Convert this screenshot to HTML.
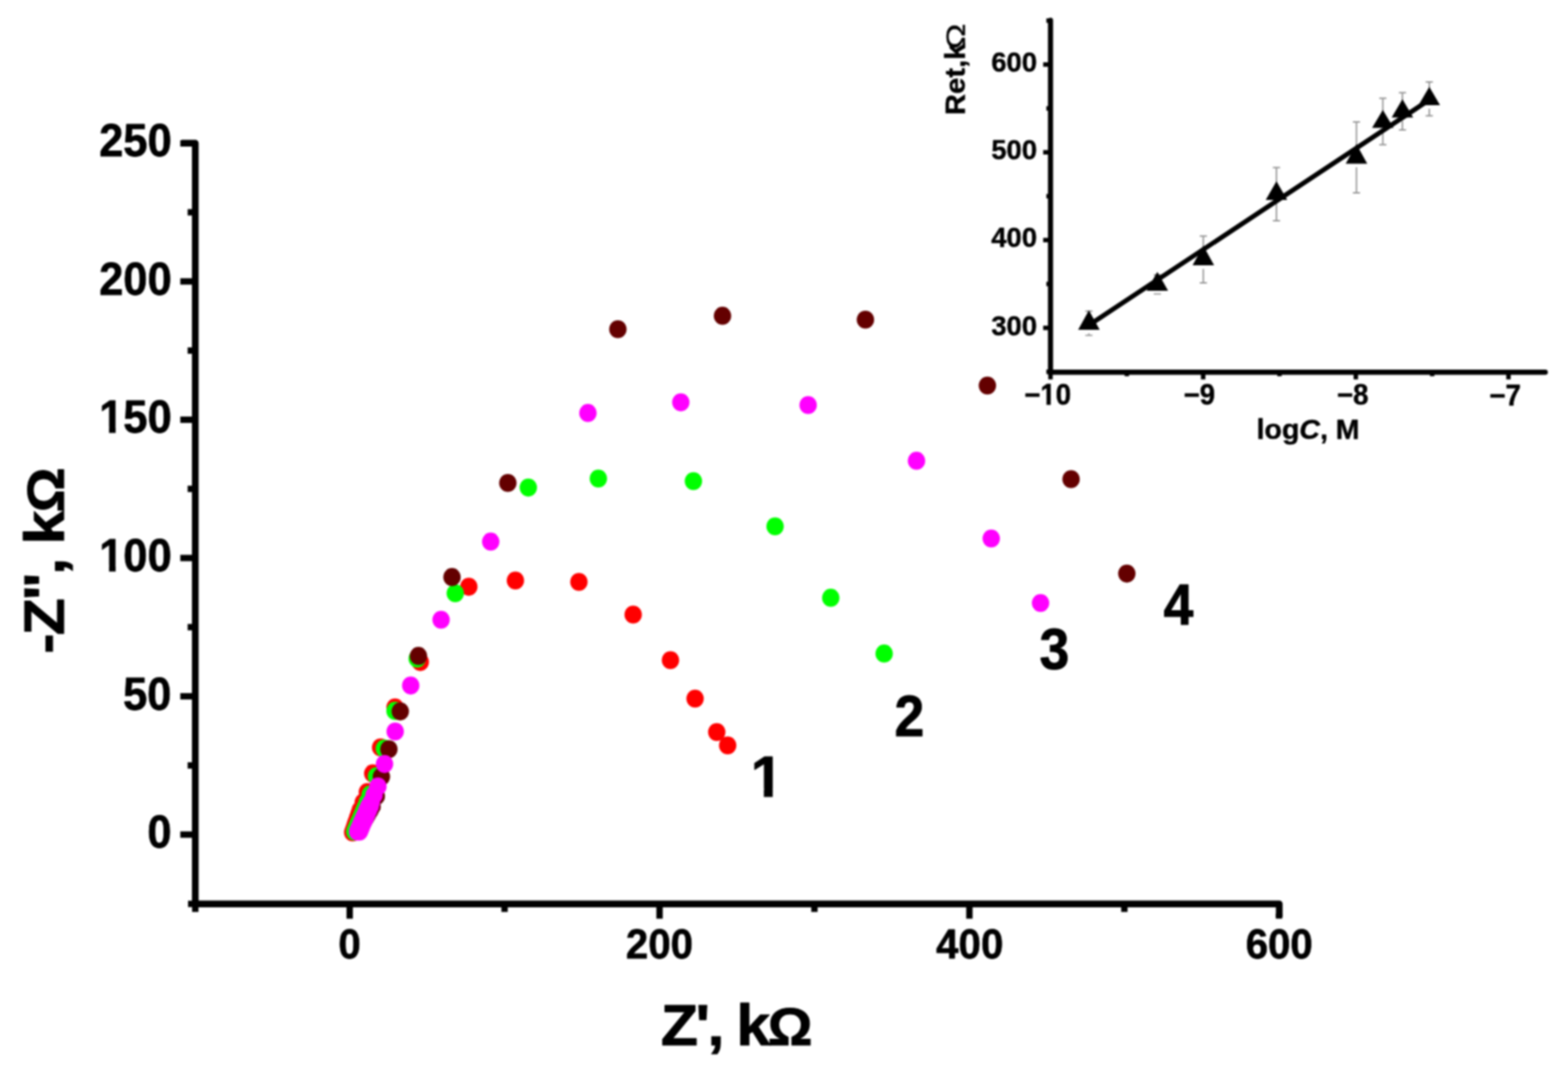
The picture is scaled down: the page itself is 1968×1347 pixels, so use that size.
<!DOCTYPE html>
<html lang="en"><head><meta charset="utf-8"><title>Nyquist plot</title>
<style>html,body{margin:0;padding:0;background:#fff;}body{width:1968px;height:1347px;overflow:hidden;}svg{display:block;}text{font-family:"Liberation Sans",sans-serif;font-weight:bold;fill:#000;stroke:#000;stroke-width:1.5px;stroke-linejoin:round;}</style></head><body>
<svg width="1968" height="1347" viewBox="0 0 1968 1347">
<defs><filter id="soft" x="0" y="0" width="1968" height="1347" filterUnits="userSpaceOnUse" color-interpolation-filters="sRGB"><feGaussianBlur stdDeviation="0.8"/></filter></defs>
<defs><clipPath id="one0" clipPathUnits="userSpaceOnUse"><path clip-rule="evenodd" d="M-20 -120H400V60H-20Z M-3.0 -13H22.6V4H-3.0Z M37.8 -13H57.0V4H37.8Z"/></clipPath><clipPath id="one584" clipPathUnits="userSpaceOnUse"><path clip-rule="evenodd" d="M-20 -120H400V60H-20Z M55.4 -13H81.0V4H55.4Z M96.2 -13H115.4V4H96.2Z"/></clipPath></defs>
<rect x="0" y="0" width="1968" height="1347" fill="#ffffff"/>
<g filter="url(#soft)">
<rect x="-20" y="-20" width="2008" height="1387" fill="#ffffff"/>
<g stroke="#000" stroke-width="8.4" fill="none" stroke-linejoin="round" stroke-linecap="butt">
<path d="M228.0 179.7H245.1V1134.7H1605.6V1151.5"/>
<path d="M226.3 180.0H232.0 M1605.3 1147.0V1153.3" stroke-width="8.0" stroke-linejoin="miter"/>
</g>
<g stroke="#000" stroke-width="8.0" fill="none">
<path d="M245.1 1134.7H236.0"/>
<path d="M245.1 1134.7V1144.8"/>
<path d="M226.3 1047.7H245.1"/>
<path d="M226.3 874.1H245.1"/>
<path d="M226.3 700.5H245.1"/>
<path d="M226.3 526.9H245.1"/>
<path d="M226.3 353.3H245.1"/>
<path d="M235.5 960.9H245.1"/>
<path d="M235.5 787.3H245.1"/>
<path d="M235.5 613.7H245.1"/>
<path d="M235.5 440.1H245.1"/>
<path d="M235.5 266.5H245.1"/>
<path d="M438.9 1134.7V1153.3"/>
<path d="M827.8 1134.7V1153.3"/>
<path d="M1216.7 1134.7V1153.3"/>
<path d="M633.3 1134.7V1144.8"/>
<path d="M1022.2 1134.7V1144.8"/>
<path d="M1411.2 1134.7V1144.8"/>
</g>
<text transform="translate(185.06,1064.12) scale(0.5450,0.5730)" font-size="100">0</text>
<text transform="translate(154.54,890.52) scale(0.5450,0.5730)" font-size="100">50</text>
<g transform="translate(124.56,716.92) scale(0.5450,0.5730)"><text clip-path="url(#one0)" font-size="100">100</text></g>
<g transform="translate(124.56,543.32) scale(0.5450,0.5730)"><text clip-path="url(#one0)" font-size="100">150</text></g>
<text transform="translate(124.56,369.72) scale(0.5450,0.5730)" font-size="100">200</text>
<text transform="translate(124.56,196.12) scale(0.5450,0.5730)" font-size="100">250</text>
<text transform="translate(424.71,1203.26) scale(0.5050,0.5220)" font-size="100">0</text>
<text transform="translate(785.59,1203.26) scale(0.5050,0.5220)" font-size="100">200</text>
<text transform="translate(1174.99,1203.26) scale(0.5050,0.5220)" font-size="100">400</text>
<text transform="translate(1563.38,1203.26) scale(0.5050,0.5220)" font-size="100">600</text>
<text transform="translate(829.38,1312.00) scale(0.7624,0.7261)" font-size="100" style="letter-spacing:-4px">Z', k<tspan font-size="92">Ω</tspan></text>
<text transform="translate(80.20,820.79) rotate(-90) scale(0.7650,0.7106)" font-size="100" style="letter-spacing:-3px">-Z'', k<tspan font-size="92">Ω</tspan></text>
<text transform="translate(1122.77,923.55) scale(0.6700,0.7300)" font-size="100">2</text>
<text transform="translate(1304.67,839.98) scale(0.6700,0.7300)" font-size="100">3</text>
<text transform="translate(1460.45,783.98) scale(0.6700,0.7300)" font-size="100">4</text>
<g transform="translate(942.24,999.84) scale(0.7300,0.7300)"><text clip-path="url(#one0)" font-size="100">1</text></g>
<g fill="#ff0000">
<ellipse cx="442.6" cy="1045.0" rx="10.9" ry="11.3"/>
<ellipse cx="443.4" cy="1042.7" rx="10.9" ry="11.3"/>
<ellipse cx="444.5" cy="1039.4" rx="10.9" ry="11.3"/>
<ellipse cx="445.8" cy="1035.6" rx="10.9" ry="11.3"/>
<ellipse cx="447.2" cy="1031.3" rx="10.9" ry="11.3"/>
<ellipse cx="448.8" cy="1026.7" rx="10.9" ry="11.3"/>
<ellipse cx="450.5" cy="1021.8" rx="10.9" ry="11.3"/>
<ellipse cx="452.2" cy="1016.7" rx="10.9" ry="11.3"/>
<ellipse cx="455.9" cy="1007.3" rx="10.9" ry="11.3"/>
<ellipse cx="461.1" cy="994.3" rx="10.9" ry="11.3"/>
<ellipse cx="467.8" cy="970.9" rx="10.9" ry="11.3"/>
<ellipse cx="477.7" cy="938.2" rx="10.9" ry="11.3"/>
<ellipse cx="495.8" cy="888.0" rx="10.9" ry="11.3"/>
<ellipse cx="527.5" cy="831.1" rx="10.9" ry="11.3"/>
<ellipse cx="588.4" cy="736.6" rx="10.9" ry="11.3"/>
<ellipse cx="646.9" cy="728.7" rx="10.9" ry="11.3"/>
<ellipse cx="726.6" cy="730.5" rx="10.9" ry="11.3"/>
<ellipse cx="794.7" cy="771.5" rx="10.9" ry="11.3"/>
<ellipse cx="841.5" cy="828.7" rx="10.9" ry="11.3"/>
<ellipse cx="872.4" cy="877.0" rx="10.9" ry="11.3"/>
<ellipse cx="899.6" cy="919.0" rx="10.9" ry="11.3"/>
<ellipse cx="913.3" cy="935.8" rx="10.9" ry="11.3"/>
</g>
<g fill="#00ff00">
<ellipse cx="445.3" cy="1044.0" rx="10.9" ry="11.3"/>
<ellipse cx="446.2" cy="1042.0" rx="10.9" ry="11.3"/>
<ellipse cx="447.4" cy="1039.1" rx="10.9" ry="11.3"/>
<ellipse cx="448.9" cy="1035.6" rx="10.9" ry="11.3"/>
<ellipse cx="450.6" cy="1031.8" rx="10.9" ry="11.3"/>
<ellipse cx="452.4" cy="1027.7" rx="10.9" ry="11.3"/>
<ellipse cx="454.2" cy="1023.4" rx="10.9" ry="11.3"/>
<ellipse cx="456.2" cy="1018.8" rx="10.9" ry="11.3"/>
<ellipse cx="458.3" cy="1014.0" rx="10.9" ry="11.3"/>
<ellipse cx="461.0" cy="1007.0" rx="10.9" ry="11.3"/>
<ellipse cx="464.7" cy="997.4" rx="10.9" ry="11.3"/>
<ellipse cx="472.5" cy="974.6" rx="10.9" ry="11.3"/>
<ellipse cx="482.4" cy="939.8" rx="10.9" ry="11.3"/>
<ellipse cx="495.8" cy="892.4" rx="10.9" ry="11.3"/>
<ellipse cx="523.6" cy="826.8" rx="10.9" ry="11.3"/>
<ellipse cx="571.4" cy="744.7" rx="10.9" ry="11.3"/>
<ellipse cx="663.1" cy="612.1" rx="10.9" ry="11.3"/>
<ellipse cx="751.0" cy="600.7" rx="10.9" ry="11.3"/>
<ellipse cx="870.3" cy="604.0" rx="10.9" ry="11.3"/>
<ellipse cx="972.8" cy="660.7" rx="10.9" ry="11.3"/>
<ellipse cx="1042.7" cy="750.4" rx="10.9" ry="11.3"/>
<ellipse cx="1109.7" cy="820.4" rx="10.9" ry="11.3"/>
</g>
<g fill="#640000">
<ellipse cx="449.5" cy="1043.0" rx="10.9" ry="11.3"/>
<ellipse cx="450.7" cy="1041.0" rx="10.9" ry="11.3"/>
<ellipse cx="452.4" cy="1038.0" rx="10.9" ry="11.3"/>
<ellipse cx="454.4" cy="1034.5" rx="10.9" ry="11.3"/>
<ellipse cx="456.6" cy="1030.6" rx="10.9" ry="11.3"/>
<ellipse cx="459.0" cy="1026.4" rx="10.9" ry="11.3"/>
<ellipse cx="461.5" cy="1022.0" rx="10.9" ry="11.3"/>
<ellipse cx="464.2" cy="1017.4" rx="10.9" ry="11.3"/>
<ellipse cx="467.0" cy="1012.5" rx="10.9" ry="11.3"/>
<ellipse cx="472.3" cy="999.5" rx="10.9" ry="11.3"/>
<ellipse cx="478.7" cy="975.1" rx="10.9" ry="11.3"/>
<ellipse cx="488.1" cy="940.5" rx="10.9" ry="11.3"/>
<ellipse cx="502.4" cy="893.1" rx="10.9" ry="11.3"/>
<ellipse cx="525.2" cy="823.4" rx="10.9" ry="11.3"/>
<ellipse cx="567.3" cy="724.4" rx="10.9" ry="11.3"/>
<ellipse cx="637.4" cy="606.2" rx="10.9" ry="11.3"/>
<ellipse cx="775.5" cy="413.2" rx="10.9" ry="11.3"/>
<ellipse cx="906.8" cy="396.4" rx="10.9" ry="11.3"/>
<ellipse cx="1086.2" cy="401.2" rx="10.9" ry="11.3"/>
<ellipse cx="1239.3" cy="484.0" rx="10.9" ry="11.3"/>
<ellipse cx="1344.3" cy="601.5" rx="10.9" ry="11.3"/>
<ellipse cx="1414.3" cy="720.1" rx="10.9" ry="11.3"/>
</g>
<g fill="#ff00ff">
<ellipse cx="448.8" cy="1044.0" rx="10.9" ry="11.3"/>
<ellipse cx="449.7" cy="1041.9" rx="10.9" ry="11.3"/>
<ellipse cx="451.1" cy="1038.8" rx="10.9" ry="11.3"/>
<ellipse cx="452.7" cy="1035.1" rx="10.9" ry="11.3"/>
<ellipse cx="454.4" cy="1031.1" rx="10.9" ry="11.3"/>
<ellipse cx="456.3" cy="1026.8" rx="10.9" ry="11.3"/>
<ellipse cx="458.4" cy="1022.2" rx="10.9" ry="11.3"/>
<ellipse cx="460.5" cy="1017.3" rx="10.9" ry="11.3"/>
<ellipse cx="462.7" cy="1012.3" rx="10.9" ry="11.3"/>
<ellipse cx="451.0" cy="1044.0" rx="10.9" ry="11.3"/>
<ellipse cx="451.9" cy="1041.9" rx="10.9" ry="11.3"/>
<ellipse cx="453.3" cy="1038.8" rx="10.9" ry="11.3"/>
<ellipse cx="454.8" cy="1035.1" rx="10.9" ry="11.3"/>
<ellipse cx="456.6" cy="1031.1" rx="10.9" ry="11.3"/>
<ellipse cx="458.5" cy="1026.8" rx="10.9" ry="11.3"/>
<ellipse cx="460.4" cy="1022.2" rx="10.9" ry="11.3"/>
<ellipse cx="462.5" cy="1017.3" rx="10.9" ry="11.3"/>
<ellipse cx="464.7" cy="1012.3" rx="10.9" ry="11.3"/>
<ellipse cx="466.0" cy="1007.0" rx="10.9" ry="11.3"/>
<ellipse cx="469.5" cy="998.0" rx="10.9" ry="11.3"/>
<ellipse cx="474.3" cy="987.3" rx="10.9" ry="11.3"/>
<ellipse cx="482.6" cy="959.1" rx="10.9" ry="11.3"/>
<ellipse cx="496.0" cy="918.3" rx="10.9" ry="11.3"/>
<ellipse cx="515.5" cy="860.6" rx="10.9" ry="11.3"/>
<ellipse cx="553.6" cy="778.0" rx="10.9" ry="11.3"/>
<ellipse cx="615.9" cy="679.9" rx="10.9" ry="11.3"/>
<ellipse cx="737.9" cy="518.4" rx="10.9" ry="11.3"/>
<ellipse cx="854.5" cy="505.1" rx="10.9" ry="11.3"/>
<ellipse cx="1014.3" cy="508.5" rx="10.9" ry="11.3"/>
<ellipse cx="1150.3" cy="578.4" rx="10.9" ry="11.3"/>
<ellipse cx="1244.1" cy="676.0" rx="10.9" ry="11.3"/>
<ellipse cx="1306.0" cy="757.0" rx="10.9" ry="11.3"/>
</g>
<g stroke="#000" stroke-width="6.4" fill="none" stroke-linecap="round">
<path d="M1318.5 25.5V467.2H1939.5"/>
</g>
<g stroke="#000" stroke-width="5.6" fill="none">
<path d="M1309.3 411.6H1318.5"/>
<path d="M1309.3 301.4H1318.5"/>
<path d="M1309.3 191.2H1318.5"/>
<path d="M1309.3 81.0H1318.5"/>
<path d="M1313.3 466.7H1318.5"/>
<path d="M1313.3 356.5H1318.5"/>
<path d="M1313.3 246.3H1318.5"/>
<path d="M1313.3 136.1H1318.5"/>
<path d="M1313.3 25.9H1318.5"/>
<path d="M1318.5 467.2V476.3"/>
<path d="M1510.1 467.2V476.3"/>
<path d="M1701.7 467.2V476.3"/>
<path d="M1893.3 467.2V476.3"/>
<path d="M1414.3 467.2V472.3"/>
<path d="M1605.9 467.2V472.3"/>
<path d="M1797.5 467.2V472.3"/>
</g>
<text transform="translate(1244.29,420.52) scale(0.3430,0.3600)" font-size="100">300</text>
<text transform="translate(1244.29,310.32) scale(0.3430,0.3600)" font-size="100">400</text>
<text transform="translate(1244.29,200.12) scale(0.3430,0.3600)" font-size="100">500</text>
<text transform="translate(1244.29,89.92) scale(0.3430,0.3600)" font-size="100">600</text>
<g transform="translate(1285.38,508.17) scale(0.3470,0.3640)"><text clip-path="url(#one584)" font-size="100">−10</text></g>
<text transform="translate(1485.57,508.17) scale(0.3470,0.3640)" font-size="100">−9</text>
<text transform="translate(1678.05,508.17) scale(0.3470,0.3640)" font-size="100">−8</text>
<text transform="translate(1869.14,508.90) scale(0.3470,0.3640)" font-size="100">−7</text>
<text transform="translate(1577.15,550.60) scale(0.3582,0.3580)" font-size="100">log<tspan font-style="italic">C</tspan>, M</text>
<text transform="translate(1210.70,144.40) rotate(-90) scale(0.3670,0.3557)" font-size="100">Ret,k</text>
<text transform="translate(1210.70,62.34) rotate(-90) scale(0.4358,0.3408)" font-size="100" style="font-weight:normal">Ω</text>
<g stroke="#909090" stroke-width="1.7" fill="none">
<path d="M1366.7 390.6V391.5M1366.7 418.5V421.0M1362.2 390.6H1371.2M1362.2 421.0H1371.2"/>
<path d="M1452.6 345.1V343.3M1452.6 369.0V369.0M1448.1 345.1H1457.1M1448.1 369.0H1457.1"/>
<path d="M1510.3 296.4V310.6M1510.3 337.6V355.2M1505.8 296.4H1514.8M1505.8 355.2H1514.8"/>
<path d="M1602.1 210.3V229.4M1602.1 255.6V277.2M1597.6 210.3H1606.6M1597.6 277.2H1606.6"/>
<path d="M1702.5 153.1V182.9M1702.5 209.9V242.1M1698.0 153.1H1707.0M1698.0 242.1H1707.0"/>
<path d="M1735.6 123.4V140.1M1735.6 165.0V181.7M1731.1 123.4H1740.1M1731.1 181.7H1740.1"/>
<path d="M1760.2 116.4V126.5M1760.2 151.9V163.2M1755.7 116.4H1764.7M1755.7 163.2H1764.7"/>
<path d="M1793.9 102.8V111.0M1793.9 136.4V145.3M1789.4 102.8H1798.4M1789.4 145.3H1798.4"/>
</g>
<g fill="#000">
<polygon points="1366.7,389.5 1353.2,414.0 1380.2,414.0"/>
<polygon points="1452.6,341.3 1439.1,365.0 1466.1,365.0"/>
<polygon points="1510.3,308.6 1496.8,333.1 1523.8,333.1"/>
<polygon points="1602.1,227.4 1588.6,251.1 1615.6,251.1"/>
<polygon points="1702.5,180.9 1689.0,205.4 1716.0,205.4"/>
<polygon points="1735.6,138.1 1722.1,160.5 1749.1,160.5"/>
<polygon points="1760.2,124.5 1746.7,147.4 1773.7,147.4"/>
<polygon points="1793.9,109.0 1780.4,131.9 1807.4,131.9"/>
</g>
<line x1="1367" y1="408" x2="1794" y2="125.3" stroke="#000" stroke-width="6.0"/>
</g>
</svg></body></html>
